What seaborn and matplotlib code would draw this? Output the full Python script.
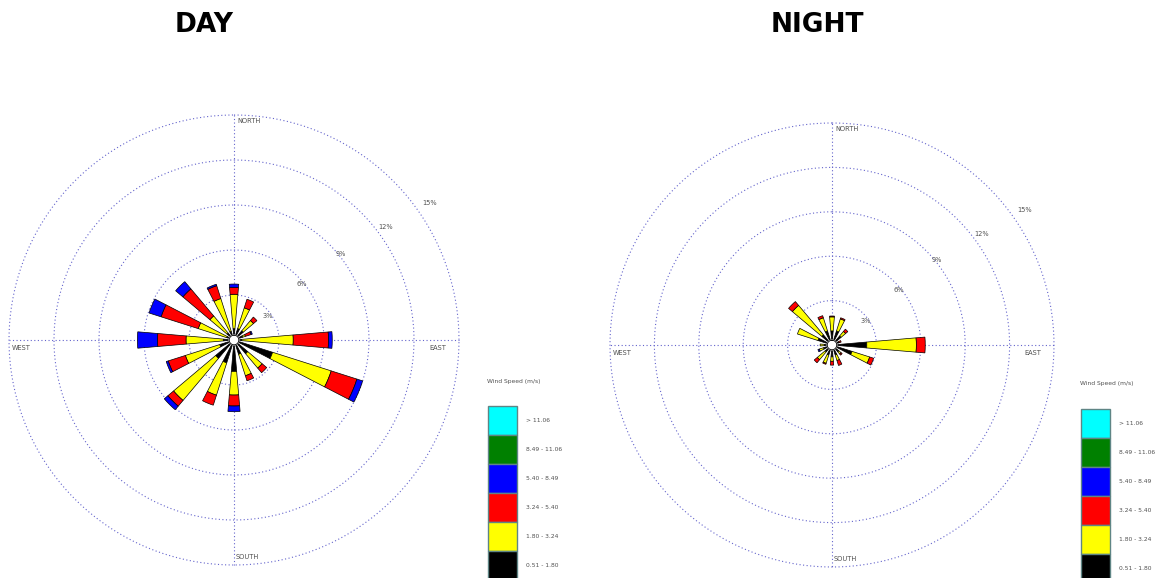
import numpy as np
import matplotlib
matplotlib.use("Agg")
import matplotlib.pyplot as plt
import seaborn as sns
from matplotlib.patches import Rectangle

sns.set_theme(style="white")
plt.rcParams["font.family"] = ["DejaVu Sans"]

# 16 compass sectors, clockwise from north
directions = ["N", "NNE", "NE", "ENE", "E", "ESE", "SE", "SSE",
              "S", "SSW", "SW", "WSW", "W", "WNW", "NW", "NNW"]

speed_classes = ["0.51 - 1.80", "1.80 - 3.24", "3.24 - 5.40",
                 "5.40 - 8.49", "8.49 - 11.06", "> 11.06"]
class_colors = ["#000000", "#ffff00", "#ff0000", "#0000ff", "#008000", "#00ffff"]

ring_levels = [3, 6, 9, 12, 15]

# Frequency (%) per direction for each wind speed class - daytime
day_051_180 = [0.75, 0.80, 0.80, 0.60, 0.50, 2.70, 1.20, 1.00, 2.10, 1.60, 1.60, 1.00, 0.70, 0.50, 0.60, 0.60]
day_180_324 = [2.30, 1.45, 0.90, 0.20, 3.45, 4.10, 1.25, 1.50, 1.57, 2.26, 3.67, 2.40, 2.50, 2.00, 1.50, 2.30]
day_324_540 = [0.45, 0.60, 0.30, 0.40, 2.35, 1.80, 0.40, 0.35, 0.73, 0.70, 0.50, 1.20, 1.90, 2.60, 2.36, 0.90]
day_540_849 = [0.23, 0.00, 0.00, 0.08, 0.25, 0.40, 0.00, 0.00, 0.38, 0.00, 0.31, 0.14, 1.34, 0.84, 0.63, 0.10]
day_849_1106 = [0.0] * 16
day_over_1106 = [0.0] * 16

# Frequency (%) per direction for each wind speed class - night-time
night_051_180 = [0.95, 1.00, 0.80, 0.45, 2.35, 1.42, 0.60, 0.70, 0.80, 0.70, 0.60, 0.60, 0.50, 1.00, 0.90, 1.00]
night_180_324 = [0.95, 0.85, 0.40, 0.05, 3.35, 1.25, 0.20, 0.40, 0.30, 0.60, 0.70, 0.30, 0.30, 1.45, 2.60, 0.93]
night_324_540 = [0.06, 0.08, 0.20, 0.15, 0.60, 0.28, 0.10, 0.35, 0.26, 0.07, 0.27, 0.00, 0.00, 0.00, 0.34, 0.15]
night_540_849 = [0.00, 0.00, 0.00, 0.00, 0.00, 0.00, 0.00, 0.00, 0.00, 0.00, 0.00, 0.10, 0.00, 0.00, 0.00, 0.00]
night_849_1106 = [0.0] * 16
night_over_1106 = [0.0] * 16

day_classes = [day_051_180, day_180_324, day_324_540, day_540_849, day_849_1106, day_over_1106]
night_classes = [night_051_180, night_180_324, night_324_540, night_540_849, night_849_1106, night_over_1106]

W, H = 1156, 578
fig = plt.figure(figsize=(W / 100, H / 100), dpi=100)
fig.patch.set_facecolor("white")

# Full-figure overlay in pixel units for titles and legends
ov = fig.add_axes([0, 0, 1, 1])
ov.set_xlim(0, W)
ov.set_ylim(H, 0)
ov.axis("off")

GRID = "#6464cc"
TXT = "#505050"


def rose(center, radius, classes):
    cx, cy = center
    ax = fig.add_axes([(cx - radius) / W, (H - cy - radius) / H,
                       2 * radius / W, 2 * radius / H], projection="polar")
    ax.set_theta_zero_location("N")
    ax.set_theta_direction(-1)
    ax.set_ylim(0, 15)
    ax.patch.set_alpha(0)
    ax.grid(False)
    ax.set_xticks([])
    ax.set_yticks([])
    ax.spines["polar"].set_visible(False)

    th = np.linspace(0, 2 * np.pi, 720)
    for lv in ring_levels:
        ax.plot(th, np.full_like(th, lv), color=GRID, lw=0.8,
                ls=(0, (1, 2.2)), zorder=1, clip_on=False)
    for ang in [0, 90, 180, 270]:
        ax.plot([np.radians(ang)] * 2, [0, 15], color=GRID, lw=0.8,
                ls=(0, (1, 2.2)), zorder=1, clip_on=False)

    # ring labels
    ring_pos = [(55, 2.78), (50.5, 5.87), (51, 9.13), (53.4, 12.6), (55, 15.9)]
    for lv, (a, r) in zip(ring_levels, ring_pos):
        ax.text(np.radians(a), r, f"{lv}%", fontsize=4.8, color=TXT,
                ha="center", va="center")

    # cardinal labels
    kw = dict(textcoords="offset pixels", fontsize=4.8, color=TXT, va="center")
    ax.annotate("NORTH", xy=(0, 15), xytext=(3, -6), ha="left", **kw)
    ax.annotate("EAST", xy=(np.pi / 2, 15), xytext=(-13, -8), ha="right", **kw)
    ax.annotate("SOUTH", xy=(np.pi, 15), xytext=(2, 8), ha="left", **kw)
    ax.annotate("WEST", xy=(3 * np.pi / 2, 15), xytext=(3, -8), ha="left", **kw)

    theta = np.radians(np.arange(16) * 22.5)
    bottom = np.zeros(16)
    for vals, col in zip(classes, class_colors):
        vals = np.asarray(vals, dtype=float)
        m = vals > 0
        if m.any():
            ax.bar(theta[m], vals[m], width=0.17, bottom=bottom[m],
                   color=col, edgecolor="black", linewidth=0.5, zorder=3)
        bottom += vals

    # calm circle in the middle
    ax.fill(th, np.full_like(th, 0.32), color="white", zorder=4)
    ax.plot(th, np.full_like(th, 0.32), color="black", lw=0.6, zorder=5)
    return ax


rose((234, 340), 225, day_classes)
rose((832, 345), 222, night_classes)

ov.text(204, 25, "DAY", fontsize=19, fontweight="bold", ha="center", va="center", color="black")
ov.text(817, 25, "NIGHT", fontsize=19, fontweight="bold", ha="center", va="center", color="black")


def legend(x, title_y, top):
    ov.text(x - 1, title_y, "Wind Speed (m/s)", fontsize=4.3, color=TXT, ha="left", va="center")
    h = 29
    for i, (lab, col) in enumerate(zip(speed_classes[::-1], class_colors[::-1])):
        y = top + i * h
        ov.add_patch(Rectangle((x, y), 29, h, facecolor=col, edgecolor="#5f8585", lw=1.0))
        ov.text(x + 38, y + h / 2, lab, fontsize=4.3, color=TXT, ha="left", va="center")


legend(488, 381, 406)
legend(1081, 384, 409)

fig.savefig("out.png", dpi=100, facecolor="white")
